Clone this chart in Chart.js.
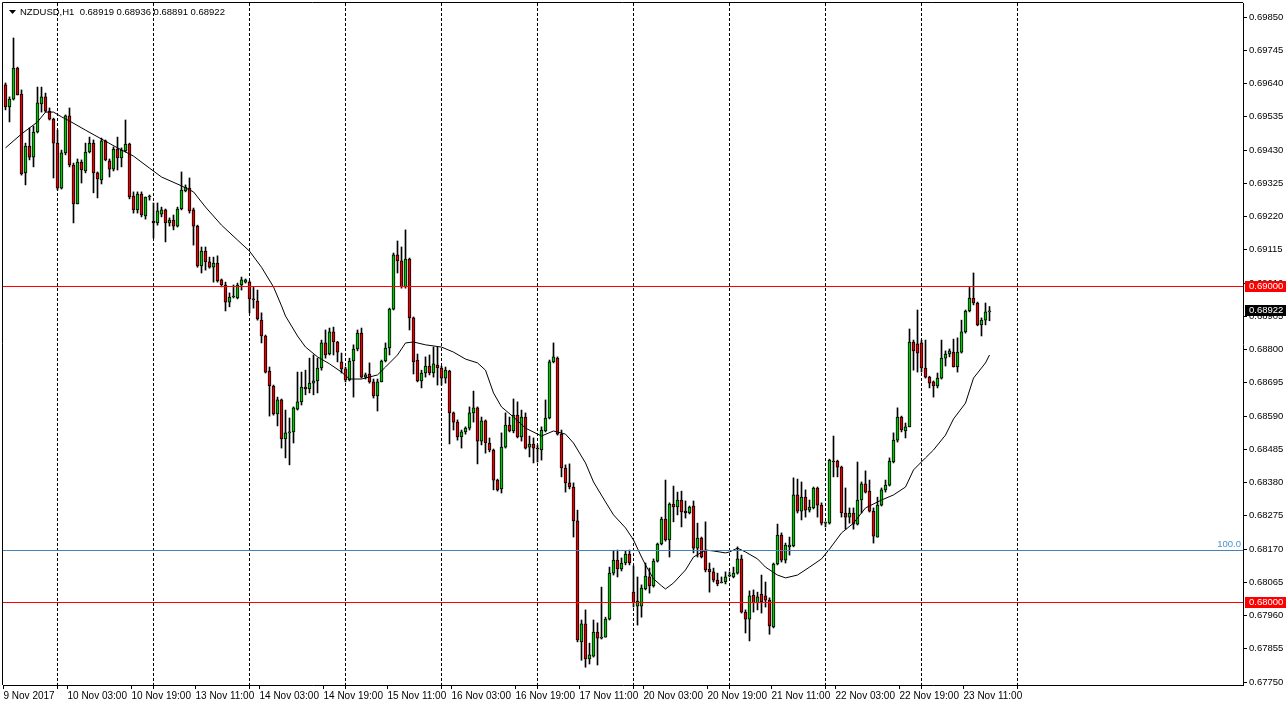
<!DOCTYPE html>
<html lang="en">
<head>
<meta charset="UTF-8">
<title>NZDUSD,H1</title>
<script src="https://cdn.jsdelivr.net/npm/chart.js"></script>
<style>
  html, body { margin: 0; padding: 0; background: #fff; }
  canvas { display: block; }
</style>
</head>
<body>
<canvas id="chart" width="1288" height="708"></canvas>
<script>
// NZDUSD H1 candles, bar 0 = 9 Nov 2017 11:00
const open = [
  0.69636, 0.69566, 0.69591, 0.69689, 0.69607, 0.69358, 0.69443, 0.69408, 0.69487, 0.69576,
  0.69598, 0.69553, 0.69528, 0.69452, 0.69310, 0.69421, 0.69538, 0.69383, 0.69260, 0.69392,
  0.69364, 0.69424, 0.69452, 0.69358, 0.69336, 0.69459, 0.69396, 0.69370, 0.69433, 0.69405,
  0.69427, 0.69449, 0.69285, 0.69241, 0.69291, 0.69222, 0.69282, 0.69206, 0.69200, 0.69228,
  0.69241, 0.69200, 0.69209, 0.69190, 0.69244, 0.69301, 0.69310, 0.69241, 0.69190, 0.69064,
  0.69111, 0.69077, 0.69060, 0.69073, 0.69020, 0.69004, 0.68950, 0.68966, 0.68963, 0.69004,
  0.69013, 0.69013, 0.68960, 0.68953, 0.68893, 0.68843, 0.68732, 0.68685, 0.68597, 0.68641,
  0.68518, 0.68537, 0.68540, 0.68612, 0.68635, 0.68682, 0.68676, 0.68694, 0.68701, 0.68742,
  0.68821, 0.68786, 0.68856, 0.68824, 0.68761, 0.68739, 0.68704, 0.68764, 0.68802, 0.68852,
  0.68713, 0.68723, 0.68698, 0.68654, 0.68698, 0.68764, 0.68805, 0.68928, 0.69099, 0.69080,
  0.68998, 0.69086, 0.68900, 0.68767, 0.68701, 0.68726, 0.68748, 0.68726, 0.68751, 0.68742,
  0.68710, 0.68732, 0.68600, 0.68571, 0.68524, 0.68540, 0.68552, 0.68600, 0.68616, 0.68511,
  0.68575, 0.68505, 0.68483, 0.68388, 0.68360, 0.68492, 0.68562, 0.68543, 0.68593, 0.68524,
  0.68587, 0.68492, 0.68502, 0.68489, 0.68483, 0.68543, 0.68584, 0.68761, 0.68773, 0.68533,
  0.68426, 0.68379, 0.68366, 0.68259, 0.67877, 0.67934, 0.67823, 0.67832, 0.67908, 0.67889,
  0.67892, 0.67949, 0.68094, 0.68135, 0.68107, 0.68126, 0.68154, 0.68034, 0.67990, 0.67990,
  0.68044, 0.68082, 0.68054, 0.68132, 0.68186, 0.68265, 0.68199, 0.68312, 0.68303, 0.68325,
  0.68290, 0.68284, 0.68306, 0.68173, 0.68205, 0.68167, 0.68107, 0.68098, 0.68072, 0.68063,
  0.68066, 0.68085, 0.68082, 0.68094, 0.68139, 0.67971, 0.67949, 0.68025, 0.68000, 0.68028,
  0.68022, 0.68009, 0.67924, 0.68123, 0.68214, 0.68135, 0.68177, 0.68180, 0.68341, 0.68290,
  0.68334, 0.68293, 0.68300, 0.68363, 0.68309, 0.68252, 0.68252, 0.68448, 0.68448, 0.68429,
  0.68284, 0.68271, 0.68284, 0.68249, 0.68325, 0.68376, 0.68353, 0.68290, 0.68208, 0.68309,
  0.68357, 0.68372, 0.68445, 0.68514, 0.68587, 0.68543, 0.68556, 0.68824, 0.68818, 0.68821,
  0.68742, 0.68713, 0.68698, 0.68685, 0.68710, 0.68773, 0.68786, 0.68792, 0.68745, 0.68792,
  0.68856, 0.68922, 0.68963, 0.68947, 0.68878, 0.68893, 0.68919
];
const high = [
  0.69642, 0.69598, 0.69784, 0.69692, 0.69620, 0.69452, 0.69500, 0.69506, 0.69629, 0.69629,
  0.69610, 0.69563, 0.69531, 0.69493, 0.69430, 0.69541, 0.69563, 0.69389, 0.69402, 0.69399,
  0.69452, 0.69471, 0.69462, 0.69361, 0.69468, 0.69462, 0.69402, 0.69440, 0.69471, 0.69437,
  0.69525, 0.69452, 0.69298, 0.69298, 0.69298, 0.69282, 0.69288, 0.69263, 0.69263, 0.69250,
  0.69244, 0.69216, 0.69225, 0.69250, 0.69361, 0.69320, 0.69342, 0.69247, 0.69193, 0.69124,
  0.69124, 0.69092, 0.69092, 0.69096, 0.69023, 0.69013, 0.68979, 0.69004, 0.69010, 0.69029,
  0.69023, 0.69017, 0.68998, 0.68988, 0.68916, 0.68846, 0.68745, 0.68688, 0.68650, 0.68644,
  0.68609, 0.68584, 0.68619, 0.68729, 0.68729, 0.68735, 0.68773, 0.68783, 0.68773, 0.68830,
  0.68862, 0.68868, 0.68871, 0.68826, 0.68789, 0.68745, 0.68773, 0.68815, 0.68862, 0.68868,
  0.68726, 0.68758, 0.68707, 0.68707, 0.68767, 0.68821, 0.68931, 0.69105, 0.69143, 0.69124,
  0.69178, 0.69089, 0.68903, 0.68786, 0.68735, 0.68777, 0.68783, 0.68808, 0.68808, 0.68748,
  0.68745, 0.68735, 0.68603, 0.68578, 0.68546, 0.68556, 0.68619, 0.68669, 0.68619, 0.68587,
  0.68578, 0.68521, 0.68486, 0.68391, 0.68537, 0.68600, 0.68587, 0.68644, 0.68635, 0.68609,
  0.68600, 0.68527, 0.68521, 0.68499, 0.68556, 0.68641, 0.68767, 0.68821, 0.68777, 0.68546,
  0.68436, 0.68439, 0.68379, 0.68293, 0.67946, 0.67978, 0.67873, 0.67946, 0.67937, 0.68050,
  0.67955, 0.68113, 0.68164, 0.68167, 0.68142, 0.68164, 0.68167, 0.68117, 0.68082, 0.68057,
  0.68126, 0.68110, 0.68139, 0.68189, 0.68271, 0.68388, 0.68316, 0.68369, 0.68350, 0.68353,
  0.68322, 0.68306, 0.68322, 0.68252, 0.68208, 0.68256, 0.68126, 0.68110, 0.68094, 0.68082,
  0.68098, 0.68098, 0.68113, 0.68177, 0.68151, 0.67978, 0.68038, 0.68041, 0.68034, 0.68088,
  0.68066, 0.68016, 0.68126, 0.68249, 0.68221, 0.68189, 0.68208, 0.68395, 0.68391, 0.68382,
  0.68357, 0.68325, 0.68366, 0.68366, 0.68316, 0.68256, 0.68454, 0.68527, 0.68451, 0.68432,
  0.68363, 0.68300, 0.68300, 0.68445, 0.68382, 0.68417, 0.68388, 0.68300, 0.68334, 0.68363,
  0.68388, 0.68458, 0.68537, 0.68616, 0.68590, 0.68568, 0.68865, 0.68830, 0.68925, 0.68830,
  0.68830, 0.68716, 0.68701, 0.68726, 0.68830, 0.68796, 0.68802, 0.68833, 0.68837, 0.68893,
  0.68925, 0.68998, 0.69042, 0.68950, 0.68900, 0.68947, 0.68936
];
const low = [
  0.69557, 0.69519, 0.69588, 0.69604, 0.69351, 0.69320, 0.69399, 0.69377, 0.69484, 0.69550,
  0.69550, 0.69525, 0.69342, 0.69304, 0.69307, 0.69415, 0.69377, 0.69200, 0.69260, 0.69326,
  0.69358, 0.69421, 0.69295, 0.69279, 0.69323, 0.69396, 0.69345, 0.69364, 0.69367, 0.69377,
  0.69424, 0.69276, 0.69231, 0.69231, 0.69219, 0.69212, 0.69272, 0.69152, 0.69193, 0.69219,
  0.69140, 0.69190, 0.69178, 0.69187, 0.69241, 0.69298, 0.69231, 0.69130, 0.69060, 0.69042,
  0.69051, 0.69057, 0.69013, 0.69013, 0.68998, 0.68922, 0.68935, 0.68963, 0.68960, 0.68988,
  0.69010, 0.68916, 0.68931, 0.68893, 0.68821, 0.68726, 0.68590, 0.68593, 0.68559, 0.68489,
  0.68458, 0.68436, 0.68505, 0.68609, 0.68625, 0.68657, 0.68663, 0.68657, 0.68663, 0.68735,
  0.68773, 0.68783, 0.68783, 0.68761, 0.68726, 0.68698, 0.68701, 0.68650, 0.68796, 0.68710,
  0.68707, 0.68694, 0.68647, 0.68606, 0.68698, 0.68761, 0.68783, 0.68925, 0.69042, 0.68994,
  0.68994, 0.68862, 0.68723, 0.68698, 0.68679, 0.68713, 0.68720, 0.68713, 0.68688, 0.68688,
  0.68694, 0.68502, 0.68546, 0.68514, 0.68489, 0.68533, 0.68546, 0.68571, 0.68439, 0.68499,
  0.68473, 0.68477, 0.68357, 0.68353, 0.68347, 0.68489, 0.68540, 0.68537, 0.68521, 0.68511,
  0.68486, 0.68461, 0.68442, 0.68445, 0.68451, 0.68540, 0.68581, 0.68758, 0.68530, 0.68398,
  0.68350, 0.68360, 0.68208, 0.67877, 0.67819, 0.67797, 0.67807, 0.67829, 0.67804, 0.67886,
  0.67892, 0.67946, 0.68088, 0.68082, 0.68101, 0.68120, 0.68120, 0.67987, 0.67930, 0.67955,
  0.68041, 0.68031, 0.68050, 0.68129, 0.68183, 0.68195, 0.68145, 0.68256, 0.68278, 0.68240,
  0.68268, 0.68281, 0.68158, 0.68145, 0.68142, 0.68098, 0.68034, 0.68066, 0.68054, 0.68063,
  0.68060, 0.68082, 0.68079, 0.68091, 0.67968, 0.67905, 0.67880, 0.67971, 0.67978, 0.67968,
  0.67987, 0.67901, 0.67921, 0.68120, 0.68129, 0.68126, 0.68151, 0.68177, 0.68284, 0.68262,
  0.68271, 0.68287, 0.68297, 0.68271, 0.68246, 0.68240, 0.68249, 0.68398, 0.68398, 0.68271,
  0.68233, 0.68252, 0.68233, 0.68246, 0.68284, 0.68347, 0.68287, 0.68189, 0.68208, 0.68306,
  0.68350, 0.68369, 0.68442, 0.68508, 0.68540, 0.68521, 0.68556, 0.68735, 0.68729, 0.68729,
  0.68710, 0.68679, 0.68650, 0.68679, 0.68707, 0.68748, 0.68777, 0.68745, 0.68729, 0.68789,
  0.68852, 0.68919, 0.68941, 0.68875, 0.68843, 0.68878, 0.68891
];
const close = [
  0.69566, 0.69591, 0.69689, 0.69604, 0.69355, 0.69443, 0.69408, 0.69487, 0.69579, 0.69598,
  0.69553, 0.69528, 0.69452, 0.69310, 0.69421, 0.69538, 0.69383, 0.69260, 0.69392, 0.69367,
  0.69424, 0.69452, 0.69358, 0.69339, 0.69459, 0.69399, 0.69370, 0.69433, 0.69405, 0.69430,
  0.69449, 0.69282, 0.69241, 0.69291, 0.69225, 0.69282, 0.69285, 0.69200, 0.69238, 0.69241,
  0.69200, 0.69209, 0.69190, 0.69244, 0.69304, 0.69313, 0.69238, 0.69190, 0.69064, 0.69111,
  0.69077, 0.69060, 0.69073, 0.69017, 0.69004, 0.68950, 0.68966, 0.68969, 0.69004, 0.69020,
  0.69020, 0.68960, 0.68957, 0.68897, 0.68843, 0.68729, 0.68685, 0.68597, 0.68641, 0.68518,
  0.68537, 0.68540, 0.68616, 0.68635, 0.68682, 0.68676, 0.68694, 0.68701, 0.68742, 0.68821,
  0.68783, 0.68856, 0.68824, 0.68792, 0.68739, 0.68704, 0.68764, 0.68802, 0.68852, 0.68713,
  0.68720, 0.68698, 0.68654, 0.68698, 0.68764, 0.68805, 0.68928, 0.69099, 0.69080, 0.68998,
  0.69086, 0.68900, 0.68761, 0.68701, 0.68726, 0.68748, 0.68726, 0.68755, 0.68742, 0.68710,
  0.68735, 0.68600, 0.68571, 0.68524, 0.68540, 0.68552, 0.68600, 0.68616, 0.68511, 0.68575,
  0.68505, 0.68483, 0.68388, 0.68357, 0.68492, 0.68562, 0.68543, 0.68593, 0.68524, 0.68587,
  0.68489, 0.68502, 0.68489, 0.68486, 0.68546, 0.68584, 0.68761, 0.68777, 0.68533, 0.68426,
  0.68379, 0.68366, 0.68259, 0.67883, 0.67934, 0.67823, 0.67836, 0.67908, 0.67889, 0.67892,
  0.67949, 0.68094, 0.68135, 0.68107, 0.68126, 0.68154, 0.68126, 0.68000, 0.68006, 0.68047,
  0.68085, 0.68054, 0.68132, 0.68186, 0.68265, 0.68199, 0.68312, 0.68303, 0.68325, 0.68287,
  0.68284, 0.68303, 0.68173, 0.68205, 0.68145, 0.68104, 0.68098, 0.68072, 0.68060, 0.68066,
  0.68082, 0.68088, 0.68094, 0.68139, 0.67971, 0.67949, 0.68022, 0.68000, 0.68019, 0.68003,
  0.68009, 0.67927, 0.68123, 0.68214, 0.68135, 0.68183, 0.68183, 0.68341, 0.68290, 0.68334,
  0.68293, 0.68303, 0.68363, 0.68309, 0.68252, 0.68252, 0.68451, 0.68445, 0.68429, 0.68284,
  0.68271, 0.68284, 0.68249, 0.68325, 0.68376, 0.68350, 0.68290, 0.68211, 0.68309, 0.68357,
  0.68372, 0.68448, 0.68514, 0.68587, 0.68546, 0.68556, 0.68824, 0.68796, 0.68789, 0.68742,
  0.68713, 0.68694, 0.68685, 0.68710, 0.68773, 0.68786, 0.68796, 0.68745, 0.68792, 0.68856,
  0.68922, 0.68963, 0.68947, 0.68878, 0.68893, 0.68919, 0.68922
];

// moving average, read at these bars
const maBars = [0, 4, 8, 10, 12, 14, 16, 20, 24, 28, 32, 36, 39, 44, 47, 50, 54, 58, 61, 64,
  67, 69, 70, 73, 75, 78, 81, 84, 86, 89, 93, 95, 98, 100, 102, 105, 109, 112, 115, 118,
  120, 122, 124, 127, 130, 134, 137, 140, 142, 145, 147, 150, 152, 155, 157, 159, 160, 162, 164, 165,
  167, 170, 172, 175, 177, 180, 181, 183, 185, 188, 190, 193, 195, 198, 201, 204, 206, 209, 212, 215,
  219, 222, 225, 227, 230, 232, 235, 237, 240, 242, 245, 246];
const maValues = [0.69437, 0.69481, 0.69519, 0.69550, 0.69550, 0.69535, 0.69522, 0.69493, 0.69465, 0.69437,
  0.69411, 0.69373, 0.69345, 0.69317, 0.69298, 0.69250, 0.69193, 0.69146, 0.69111, 0.69060,
  0.68998, 0.68938, 0.68906, 0.68843, 0.68808, 0.68777, 0.68755, 0.68729, 0.68707, 0.68707,
  0.68720, 0.68745, 0.68783, 0.68821, 0.68824, 0.68815, 0.68808, 0.68792, 0.68770, 0.68758,
  0.68735, 0.68663, 0.68619, 0.68587, 0.68552, 0.68527, 0.68543, 0.68533, 0.68505, 0.68442,
  0.68382, 0.68319, 0.68278, 0.68237, 0.68199, 0.68145, 0.68120, 0.68076, 0.68054, 0.68044,
  0.68063, 0.68104, 0.68145, 0.68167, 0.68164, 0.68158, 0.68161, 0.68173, 0.68161, 0.68139,
  0.68113, 0.68088, 0.68079, 0.68088, 0.68113, 0.68139, 0.68170, 0.68221, 0.68252, 0.68300,
  0.68325, 0.68341, 0.68366, 0.68420, 0.68458, 0.68483, 0.68530, 0.68581, 0.68631, 0.68710,
  0.68758, 0.68783];

const timeLabels = ['9 Nov 2017', '10 Nov 03:00', '10 Nov 19:00', '13 Nov 11:00', '14 Nov 03:00',
  '14 Nov 19:00', '15 Nov 11:00', '16 Nov 03:00', '16 Nov 19:00', '17 Nov 11:00', '20 Nov 03:00',
  '20 Nov 19:00', '21 Nov 11:00', '22 Nov 03:00', '22 Nov 19:00', '23 Nov 11:00'];
const labelBars = [0, 16, 32, 48, 64, 80, 96, 112, 128, 144, 160, 176, 192, 208, 224, 240];
const dayStartBars = [13, 37, 61, 85, 109, 133, 157, 181, 205, 229, 253];

const priceTicks = [0.69850, 0.69745, 0.69640, 0.69535, 0.69430, 0.69325, 0.69220, 0.69115,
  0.69010, 0.68905, 0.68800, 0.68695, 0.68590, 0.68485, 0.68380, 0.68275, 0.68170, 0.68065,
  0.67960, 0.67855, 0.67750];

const levelPrices = [0.69000, 0.68165, 0.68000];
const levelTexts = ['', '100.0', ''];
const tagPrices = [0.69000, close[close.length - 1], 0.68000];

const X_MIN = -0.625, X_MAX = 309.375;
const Y_MIN = 0.677408, Y_MAX = 0.698945;

const BULL = '#00c800';
const BEAR = '#e80000';
const levelColors = ['#ff0000', '#4682b4', '#ff0000'];
const tagColors = ['#ff0000', '#000000', '#ff0000'];
const FONT = "'Liberation Sans', Arial, sans-serif";

Chart.defaults.font.family = FONT;
Chart.defaults.font.size = 9.5;
Chart.defaults.color = '#000';

const mtPlugin = {
  id: 'mt',
  beforeDraw(chart) {
    const ctx = chart.ctx;
    ctx.save();
    ctx.fillStyle = '#fff';
    ctx.fillRect(0, 0, chart.width, chart.height);
    ctx.restore();
  },
  beforeDatasetsDraw(chart) {
    const {ctx, chartArea: a, scales: {x}} = chart;
    ctx.save();
    ctx.strokeStyle = '#000';
    ctx.lineWidth = 1;
    ctx.setLineDash([3, 2]);
    dayStartBars.forEach(b => {
      const px = Math.floor(x.getPixelForValue(b)) + 0.5;
      ctx.beginPath();
      ctx.moveTo(px, a.top);
      ctx.lineTo(px, a.bottom);
      ctx.stroke();
    });
    ctx.setLineDash([]);
    dayStartBars.forEach(b => {
      const px = Math.floor(x.getPixelForValue(b)) + 0.5;
      ctx.beginPath();
      ctx.moveTo(px, a.bottom);
      ctx.lineTo(px, a.bottom + 4);
      ctx.stroke();
    });
    ctx.restore();
  },
  afterDatasetsDraw(chart) {
    const {ctx, chartArea: a, scales: {y}} = chart;
    ctx.save();
    ctx.lineWidth = 1;
    levelPrices.forEach((p, i) => {
      const py = Math.floor(y.getPixelForValue(p)) + 0.5;
      ctx.strokeStyle = levelColors[i];
      ctx.beginPath();
      ctx.moveTo(a.left, py);
      ctx.lineTo(a.right, py);
      ctx.stroke();
      if (levelTexts[i]) {
        ctx.fillStyle = '#4a90c8';
        ctx.font = '9.5px ' + FONT;
        ctx.textAlign = 'right';
        ctx.textBaseline = 'bottom';
        ctx.fillText(levelTexts[i], a.right - 2, py - 1);
      }
    });
    ctx.restore();
  },
  afterDraw(chart) {
    const {ctx, chartArea: a, scales: {y}} = chart;
    ctx.save();
    // frame
    ctx.strokeStyle = '#000';
    ctx.lineWidth = 1;
    ctx.beginPath();
    ctx.moveTo(a.left - 0.5, a.bottom);
    ctx.lineTo(a.left - 0.5, a.top - 0.5);
    ctx.lineTo(a.right, a.top - 0.5);
    ctx.stroke();
    // price tags
    ctx.font = '9.5px ' + FONT;
    ctx.textAlign = 'left';
    ctx.textBaseline = 'middle';
    tagPrices.forEach((p, i) => {
      const py = Math.floor(y.getPixelForValue(p));
      ctx.fillStyle = tagColors[i];
      ctx.fillRect(a.right + 2, py - 5, 41, 11);
      ctx.fillStyle = '#fff';
      ctx.fillText(p.toFixed(5), a.right + 6, py + 0.5);
    });
    // title
    ctx.fillStyle = '#000';
    ctx.beginPath();
    ctx.moveTo(9, 10);
    ctx.lineTo(16, 10);
    ctx.lineTo(12.5, 14);
    ctx.closePath();
    ctx.fill();
    const last = close.length - 1;
    const title = symbol() + '  ' + [open[last], high[last], low[last], close[last]].map(v => v.toFixed(5)).join(' ');
    ctx.fillText(title, 20, 12.5);
    ctx.restore();
  }
};

function symbol() { return 'NZDUSD,H1'; }

const wickData = low.map((l, i) => ({x: i, y: [l, high[i]]}));
const bodyData = open.map((o, i) => ({x: i, y: [o, close[i]]}));
const bodyColors = open.map((o, i) => close[i] >= o ? BULL : BEAR);
const maData = maBars.map((b, i) => ({x: b, y: maValues[i]}));

new Chart(document.getElementById('chart'), {
  type: 'bar',
  data: {
    datasets: [
      {
        label: 'wick',
        data: wickData,
        backgroundColor: '#000',
        borderWidth: 0,
        barThickness: 1,
        minBarLength: 1,
        grouped: false,
        order: 3
      },
      {
        label: 'body',
        data: bodyData,
        backgroundColor: bodyColors,
        borderColor: '#000',
        borderWidth: 1,
        borderSkipped: false,
        barThickness: 3,
        minBarLength: 1,
        grouped: false,
        order: 2
      },
      {
        type: 'line',
        label: 'MA',
        data: maData,
        borderColor: '#000',
        borderWidth: 1,
        pointRadius: 0,
        tension: 0,
        order: 1
      }
    ]
  },
  options: {
    responsive: false,
    animation: false,
    devicePixelRatio: 1,
    events: [],
    layout: { padding: { top: 3, left: 3, right: 0, bottom: 0 } },
    plugins: { legend: { display: false }, tooltip: { enabled: false } },
    scales: {
      x: {
        type: 'linear',
        min: X_MIN,
        max: X_MAX,
        offset: false,
        afterBuildTicks: s => { s.ticks = labelBars.map(b => ({ value: b - 0.5 })); },
        afterFit: s => { s.height = 23; s.paddingLeft = 0; s.paddingRight = 0; },
        ticks: {
          align: 'start',
          autoSkip: false,
          maxRotation: 0,
          minRotation: 0,
          padding: 1,
          font: { size: 10 },
          callback: (v, i) => timeLabels[i]
        },
        grid: { drawOnChartArea: false, offset: false, tickLength: 4, color: '#000' },
        border: { color: '#000' }
      },
      y: {
        position: 'right',
        min: Y_MIN,
        max: Y_MAX,
        afterBuildTicks: s => { s.ticks = priceTicks.slice().reverse().map(v => ({ value: v })); },
        afterFit: s => { s.width = 45; s.paddingTop = 0; s.paddingBottom = 0; },
        ticks: {
          autoSkip: false,
          padding: 2,
          callback: v => Number(v).toFixed(5)
        },
        grid: { drawOnChartArea: false, tickLength: 4, color: '#000' },
        border: { color: '#000' }
      }
    }
  },
  plugins: [mtPlugin]
});
</script>
</body>
</html>
